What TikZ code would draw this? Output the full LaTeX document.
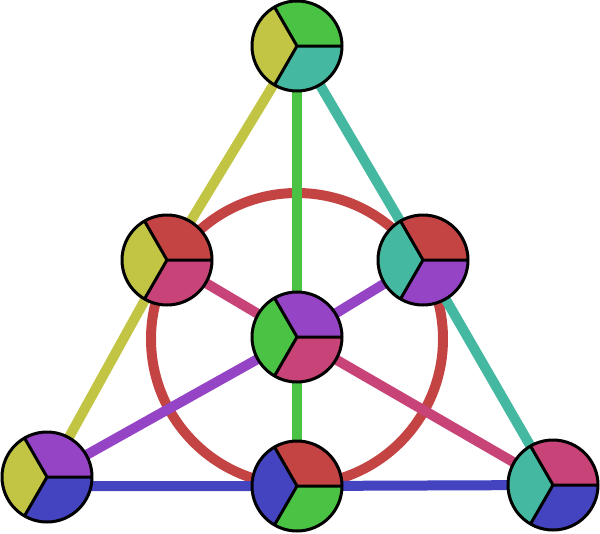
\documentclass[tikz,border=0pt]{standalone}

\definecolor{fanoyellow}{HTML}{C2C444}
\definecolor{fanogreen}{HTML}{4AC244}
\definecolor{fanoteal}{HTML}{44B8A0}
\definecolor{fanored}{HTML}{C44444}
\definecolor{fanopink}{HTML}{C84478}
\definecolor{fanopurple}{HTML}{9444C4}
\definecolor{fanoblue}{HTML}{4444C0}

\begin{document}
\begin{tikzpicture}
	[
	x = {(0.75pt, 0pt)},
	y = {(0pt, -0.75pt)},
	radius = 33.75pt,
	line/.style = {line width = 7.5pt},
	rim/.style = {draw = black, line width = 2.25pt, line join = round},
	yellowline/.style = {line, color = fanoyellow},
	greenline/.style = {line, color = fanogreen},
	tealline/.style = {line, color = fanoteal},
	redline/.style = {line, color = fanored},
	pinkline/.style = {line, color = fanopink},
	purpleline/.style = {line, color = fanopurple},
	blueline/.style = {line, color = fanoblue}]

	\useasboundingbox (0,0) rectangle (600,533);

	\coordinate (top) at (297,46);
	\coordinate (left) at (167,260);
	\coordinate (right) at (423,260);
	\coordinate (centre) at (297,337);
	\coordinate (bottomleft) at (47,477);
	\coordinate (bottom) at (297,486);
	\coordinate (bottomright) at (553,485);

	%% Drawing the lines

	\draw[redline] (297,339) circle[radius = 109.5pt];

	\draw[yellowline] (top) -- (left) -- (bottomleft);
	\draw[tealline] (top) -- (right) -- (bottomright);
	\draw[blueline] (bottom -| bottomleft) -- (bottom) -- (bottomright);
	\draw[greenline] (top) -- (centre) -- (bottom);
	\draw[pinkline] (left) -- (centre) -- (bottomright);
	\draw[purpleline] (right) -- (centre) -- (bottomleft);

	%% Drawing the points

	\fill[fanogreen] (top) -- ++(0:33.75pt) arc[start angle = 0, end angle = 120] -- cycle;
	\fill[fanoyellow] (top) -- ++(120:33.75pt) arc[start angle = 120, end angle = 240] -- cycle;
	\fill[fanoteal] (top) -- ++(240:33.75pt) arc[start angle = 240, end angle = 360] -- cycle;

	\fill[fanored] (left) -- ++(0:33.75pt) arc[start angle = 0, end angle = 120] -- cycle;
	\fill[fanoyellow] (left) -- ++(120:33.75pt) arc[start angle = 120, end angle = 240] -- cycle;
	\fill[fanopink] (left) -- ++(240:33.75pt) arc[start angle = 240, end angle = 360] -- cycle;

	\fill[fanored] (right) -- ++(0:33.75pt) arc[start angle = 0, end angle = 120] -- cycle;
	\fill[fanoteal] (right) -- ++(120:33.75pt) arc[start angle = 120, end angle = 240] -- cycle;
	\fill[fanopurple] (right) -- ++(240:33.75pt) arc[start angle = 240, end angle = 360] -- cycle;

	\fill[fanopurple] (centre) -- ++(0:33.75pt) arc[start angle = 0, end angle = 120] -- cycle;
	\fill[fanogreen] (centre) -- ++(120:33.75pt) arc[start angle = 120, end angle = 240] -- cycle;
	\fill[fanopink] (centre) -- ++(240:33.75pt) arc[start angle = 240, end angle = 360] -- cycle;

	\fill[fanopurple] (bottomleft) -- ++(0:33.75pt) arc[start angle = 0, end angle = 120] -- cycle;
	\fill[fanoyellow] (bottomleft) -- ++(120:33.75pt) arc[start angle = 120, end angle = 240] -- cycle;
	\fill[fanoblue] (bottomleft) -- ++(240:33.75pt) arc[start angle = 240, end angle = 360] -- cycle;

	\fill[fanored] (bottom) -- ++(0:33.75pt) arc[start angle = 0, end angle = 120] -- cycle;
	\fill[fanoblue] (bottom) -- ++(120:33.75pt) arc[start angle = 120, end angle = 240] -- cycle;
	\fill[fanogreen] (bottom) -- ++(240:33.75pt) arc[start angle = 240, end angle = 360] -- cycle;

	\fill[fanopink] (bottomright) -- ++(0:33.75pt) arc[start angle = 0, end angle = 120] -- cycle;
	\fill[fanoteal] (bottomright) -- ++(120:33.75pt) arc[start angle = 120, end angle = 240] -- cycle;
	\fill[fanoblue] (bottomright) -- ++(240:33.75pt) arc[start angle = 240, end angle = 360] -- cycle;

	%% Drawing the rims

	\foreach \p in {top, left, right, centre, bottomleft, bottom, bottomright}
	{
		\draw[rim] (\p) circle;
		\draw[rim] (\p) -- ++(0:33.75pt) (\p) -- ++(120:33.75pt) (\p) -- ++(240:33.75pt);
	}
\end{tikzpicture}
\end{document}
